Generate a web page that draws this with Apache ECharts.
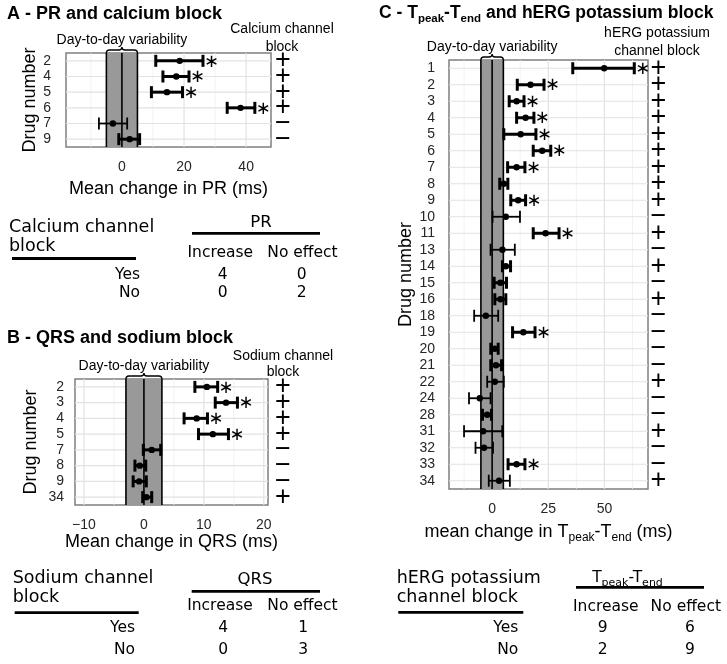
<!DOCTYPE html>
<html><head><meta charset="utf-8">
<script src="https://cdn.jsdelivr.net/npm/echarts@6/dist/echarts.min.js"></script>
<style>html,body{margin:0;padding:0;background:#fff}#c{width:727px;height:664px}</style>
</head><body><div id="c"></div>
<script>
// ---------- Panel A : PR and calcium block ----------
const drugsA = ['2','4','5','6','7','9'];
const meanA  = [18.6, 17.5, 14.5, 38.2, -2.9, 2.5];
const lowA   = [10.9, 13.2,  9.5, 33.9, -7.4, -1.0];
const highA  = [26.1, 21.6, 19.5, 42.8,  1.7,  5.7];
const sigA   = [1,1,1,1,0,0];
const blockA = ['+','+','+','+','−','−'];
const ticksA = [0, 20, 40];
const minorA = [-10, 10, 30];
const varA = 5;

// ---------- Panel B : QRS and sodium block ----------
const drugsB = ['2','3','4','5','7','8','9','34'];
const meanB  = [10.5, 13.7,  8.8, 11.5,  1.3, -0.7, -0.8,  0.4];
const lowB   = [ 8.5, 11.9,  6.7,  9.1, -0.1, -1.5, -1.8, -0.2];
const highB  = [12.3, 15.6, 10.6, 14.1,  2.8,  0.3,  0.4,  1.3];
const sigB   = [1,1,1,1,0,0,0,0];
const blockB = ['+','+','+','+','−','−','−','+'];
const ticksB = [-10, 0, 10, 20];
const minorB = [-5, 5, 15];
const varB = 3;

// ---------- Panel C : Tpeak-Tend and hERG block ----------
const drugsC = ['1','2','3','4','5','6','7','8','9','10','11','13','14','15','16','18','19','20','21','22','24','28','31','32','33','34'];
const meanC  = [49.9,17.1,10.9,14.9,12.7,22.3,10.9,5.2,11.6,6.1,23.8,4.6,6.1,3.7,3.7,-2.8,13.9,1.2,1.7,1.2,-5.5,-2.2,-4.0,-3.6,10.9,3.1];
const lowC   = [35.9,11.2,7.6,10.9,5.2,18.3,6.9,3.4,8.3,0.2,18.3,-0.7,4.6,0.9,1.2,-8.0,9.1,-0.6,-0.6,-2.2,-10.3,-4.3,-12.5,-7.4,7.1,-1.5];
const highC  = [63.3,23.1,14.2,18.6,19.5,26.1,14.6,7.0,14.9,12.4,29.8,10.1,8.2,6.4,6.1,2.7,19.1,2.7,4.2,5.2,-0.7,-0.3,4.5,0.4,14.6,7.9];
const sigC   = [1,1,1,1,1,1,1,0,1,0,1,0,0,0,0,0,1,0,0,0,0,0,0,0,1,0];
const blockC = ['+','+','+','+','+','+','+','+','+','−','+','−','+','−','+','−','−','−','−','+','−','−','+','−','−','+'];
const ticksC = [0, 25, 50];
const minorC = [-12.5, 12.5, 37.5, 62.5];
const varC = 5;

// ---------- Contingency tables ----------
const tableCols = ['Increase', 'No effect'];
const tableRows = ['Yes', 'No'];
const countsA = [[4, 0], [0, 2]];
const countsB = [[4, 1], [0, 3]];
const countsC = [[9, 6], [2, 9]];

const FONT = 'Liberation Sans';
const TFONT = 'DejaVu Sans';

function vgridSeries(gi, majors, minors) {
  const data = majors.map(v => [v, 0, 1]).concat(minors.map(v => [v, 0, 0]));
  return {type:'custom', xAxisIndex:gi, yAxisIndex:gi, z:1, silent:true, data, encode:{x:0, y:1},
    renderItem(params, api) {
      const cs = params.coordSys;
      const x = api.coord([api.value(0), 0])[0];
      const major = api.value(2) === 1;
      return {type:'line', shape:{x1:x, y1:cs.y, x2:x, y2:cs.y + cs.height},
        style:{stroke: major ? '#e2e2e2' : '#efefef', lineWidth: major ? 1.2 : 0.8}};
    }};
}
function hgridSeries(gi, drugs) {
  return {type:'custom', xAxisIndex:gi, yAxisIndex:gi, z:1, silent:true,
    data: drugs.map((d, i) => [0, i]), encode:{x:0, y:1},
    renderItem(params, api) {
      const cs = params.coordSys;
      const y = api.coord([0, api.value(1)])[1];
      return {type:'line', shape:{x1:cs.x, y1:y, x2:cs.x + cs.width, y2:y},
        style:{stroke:'#e2e2e2', lineWidth:1.2}};
    }};
}
function bandSeries(gi, v) {
  return {type:'custom', xAxisIndex:gi, yAxisIndex:gi, z:2, silent:true,
    data:[[-v, 0, v]], encode:{x:[0, 2], y:1},
    renderItem(params, api) {
      const cs = params.coordSys;
      const x1 = api.coord([api.value(0), 0])[0];
      const x2 = api.coord([api.value(2), 0])[0];
      const x0 = api.coord([0, 0])[0];
      const top = cs.y, bot = cs.y + cs.height;
      const xm = (x1 + x2) / 2;
      const brace = `M${x1} ${top} Q${x1} ${top-3} ${x1+3} ${top-3} L${xm-3} ${top-3} Q${xm} ${top-3} ${xm} ${top-6} Q${xm} ${top-3} ${xm+3} ${top-3} L${x2-3} ${top-3} Q${x2} ${top-3} ${x2} ${top}`;
      const ln = (x) => ({type:'line', shape:{x1:x, y1:top, x2:x, y2:bot}, style:{stroke:'#000', lineWidth:1.6}});
      return {type:'group', children:[
        {type:'rect', shape:{x:x1, y:top, width:x2 - x1, height:cs.height}, style:{fill:'#999999'}},
        ln(x1), ln(x2), ln(x0),
        {type:'path', shape:{pathData:brace}, style:{stroke:'#000', fill:'none', lineWidth:1.3}},
        {type:'text', style:{text:'Day-to-day variability', x:xm, y:top - 13, align:'center', verticalAlign:'middle',
          font:`14px ${FONT}`, fill:'#000'}}
      ]};
    }};
}
function barSeries(gi, low, high, mean, sig, block, signOffset) {
  const data = low.map((l, i) => [l, i, high[i], mean[i], sig[i]]);
  return {type:'custom', xAxisIndex:gi, yAxisIndex:gi, z:3, silent:true, data, encode:{x:[0, 2, 3], y:1},
    renderItem(params, api) {
      const cs = params.coordSys;
      const i = api.value(1);
      const pl = api.coord([api.value(0), i]);
      const ph = api.coord([api.value(2), i]);
      const pm = api.coord([api.value(3), i]);
      const y = pl[1];
      const s = api.value(4) === 1;
      const thick = s || (api.value(2) - api.value(0)) < 7;
      const lw = thick ? 3 : 1.8;
      const st = {stroke:'#000', lineWidth:lw};
      const ch = [
        {type:'line', shape:{x1:pl[0], y1:y, x2:ph[0], y2:y}, style:st},
        {type:'line', shape:{x1:pl[0], y1:y - 6, x2:pl[0], y2:y + 6}, style:st},
        {type:'line', shape:{x1:ph[0], y1:y - 6, x2:ph[0], y2:y + 6}, style:st},
        {type:'circle', shape:{cx:pm[0], cy:y, r:3.2}, style:{fill:'#000'}},
        {type:'text', style:{text:block[params.dataIndex], x:cs.x + cs.width + signOffset, y:y,
          align:'center', verticalAlign:'middle', font:`27px ${FONT}`, fill:'#000'}}
      ];
      if (s) {
        ch.push({type:'text', style:{text:'∗', x:ph[0] + 8.5, y:y + 1, align:'center', verticalAlign:'middle',
          font:`18px ${TFONT}`, fill:'#000'}});
      }
      return {type:'group', children:ch};
    }};
}

const tickLabel = {fontSize:14, fontFamily:FONT, color:'#262626',
  formatter: v => String(v).replace('-', '−')};
function xAxisDef(gi, min, max, ticks, name, gap, nameStyle) {
  return {gridIndex:gi, type:'value', min, max,
    axisLine:{show:false}, splitLine:{show:false},
    axisTick:{customValues:ticks, length:5, lineStyle:{color:'#333', width:1.5}},
    axisLabel:Object.assign({customValues:ticks, margin:13}, tickLabel),
    name, nameLocation:'middle', nameGap:gap,
    nameTextStyle:Object.assign({fontSize:18, fontFamily:FONT, color:'#000'}, nameStyle || {})};
}
function yAxisDef(gi, drugs, margin, gap) {
  return {gridIndex:gi, type:'category', data:drugs, inverse:true,
    axisLine:{show:false}, splitLine:{show:false},
    axisTick:{alignWithLabel:true, interval:0, length:5, lineStyle:{color:'#333', width:1.5}},
    axisLabel:{interval:0, fontSize:14, fontFamily:FONT, color:'#262626', margin},
    name:'Drug number', nameLocation:'middle', nameGap:gap, nameRotate:90,
    nameTextStyle:{fontSize:18, fontFamily:FONT, color:'#000'}};
}

const gridStyle = {show:true, borderColor:'#7f7f7f', borderWidth:1.5, backgroundColor:'#fff'};

function txt(text, x, y, size, align, font, weight) {
  return {type:'text', silent:true, style:{text, x, y, font:`${weight || ''} ${size}px ${font || FONT}`,
    fill:'#000', align:align || 'left', verticalAlign:'middle', textAlign:align || 'left', textVerticalAlign:'middle'}};
}
function hline(x1, x2, y) {
  return {type:'line', silent:true, shape:{x1, y1:y, x2, y2:y}, style:{stroke:'#000', lineWidth:2.8}};
}
function table(rowTitle, head, counts, L) {
  const els = [
    txt(rowTitle[0], L.lx, L.r1, 17.5, 'left', TFONT),
    txt(rowTitle[1], L.lx, L.r2, 17.5, 'left', TFONT),
    hline(L.u1[0], L.u1[1], L.u1[2]),
    hline(L.u2[0], L.u2[1], L.u2[2]),
    txt(tableCols[0], L.c1, L.hy, 15.5, 'center', TFONT),
    txt(tableCols[1], L.c2, L.hy, 15.5, 'center', TFONT)
  ];
  els.push(head);
  tableRows.forEach((r, k) => {
    els.push(txt(r, L.rx, L.ry[k], 15.5, 'right', TFONT));
    els.push(txt(String(counts[k][0]), L.v1, L.ry[k], 15.5, 'center', TFONT));
    els.push(txt(String(counts[k][1]), L.v2, L.ry[k], 15.5, 'center', TFONT));
  });
  return els;
}

const subRich = {
  n:{fontSize:15.5, fontFamily:TFONT, color:'#000', verticalAlign:'middle', lineHeight:22},
  s:{fontSize:11, fontFamily:TFONT, color:'#000', verticalAlign:'bottom', lineHeight:22}
};

const graphic = [
  txt('A - PR and calcium block', 7, 14, 18, 'left', FONT, 'bold'),
  txt('B - QRS and sodium block', 7, 338, 18, 'left', FONT, 'bold'),
  {type:'text', silent:true, style:{text:'{b|C - T}{s|peak}{b|-T}{s|end}{b| and hERG potassium block}', x:379, y:13,
    verticalAlign:'middle', textVerticalAlign:'middle',
    rich:{b:{fontSize:17.5, fontWeight:'bold', fontFamily:FONT, color:'#000', verticalAlign:'middle', lineHeight:24},
          s:{fontSize:11.5, fontWeight:'bold', fontFamily:FONT, color:'#000', verticalAlign:'bottom', lineHeight:24}}}},
  txt('Calcium channel', 282, 29, 14, 'center'),
  txt('block', 282, 47, 14, 'center'),
  txt('Sodium channel', 283, 356, 14, 'center'),
  txt('block', 283, 372.5, 14, 'center'),
  txt('hERG potassium', 657, 33, 14, 'center'),
  txt('channel block', 657, 51.5, 14, 'center')
]
.concat(table(['Calcium channel', 'block'], txt('PR', 261, 223, 16.5, 'center', TFONT), countsA,
  {lx:9, r1:227, r2:246, u1:[12, 136, 258.5], u2:[192, 320, 233.3], c1:220.3, c2:302.5, hy:252.7,
   rx:140, ry:[275, 293.3], v1:222.7, v2:301.7}))
.concat(table(['Sodium channel', 'block'], txt('QRS', 255, 580, 16.5, 'center', TFONT), countsB,
  {lx:12.7, r1:578.3, r2:597.3, u1:[14.7, 138.7, 612.7], u2:[191.7, 320, 591.3], c1:220, c2:302.5, hy:606,
   rx:135, ry:[628.3, 650], v1:223.3, v2:303.3}))
.concat(table(['hERG potassium', 'channel block'],
  {type:'text', silent:true, style:{text:'{n|T}{s|peak}{n|-T}{s|end}', x:627.5, y:577.5, align:'center', textAlign:'center',
    verticalAlign:'middle', textVerticalAlign:'middle', rich:subRich}}, countsC,
  {lx:396.7, r1:578.3, r2:597.3, u1:[398.3, 523.3, 612.3], u2:[576, 704, 587.3], c1:605.8, c2:685.8, hy:606.7,
   rx:518.3, ry:[628.3, 650], v1:602.7, v2:690}));

const option = {
  animation:false,
  backgroundColor:'#fff',
  grid:[
    Object.assign({left:66, top:53, width:205, height:94}, gridStyle),
    Object.assign({left:75, top:379, width:193, height:126}, gridStyle),
    Object.assign({left:449, top:60, width:199, height:429}, gridStyle)
  ],
  xAxis:[
    xAxisDef(0, -18, 48, ticksA, 'Mean change in PR (ms)', 33),
    xAxisDef(1, -11.5, 20.7, ticksB, 'Mean change in QRS (ms)', 28),
    xAxisDef(2, -19.2, 69.4, ticksC, '{n|mean change in T}{s|peak}{n|-T}{s|end}{n| (ms)}', 31,
      {rich:{n:{fontSize:18, fontFamily:FONT, color:'#000', verticalAlign:'middle', lineHeight:24},
             s:{fontSize:12, fontFamily:FONT, color:'#000', verticalAlign:'bottom', lineHeight:24}}})
  ],
  yAxis:[
    yAxisDef(0, drugsA, 15, 27),
    yAxisDef(1, drugsB, 11, 35),
    yAxisDef(2, drugsC, 14, 34)
  ],
  series:[
    vgridSeries(0, ticksA, minorA), hgridSeries(0, drugsA), bandSeries(0, varA),
    barSeries(0, lowA, highA, meanA, sigA, blockA, 12),
    vgridSeries(1, ticksB, minorB), hgridSeries(1, drugsB), bandSeries(1, varB),
    barSeries(1, lowB, highB, meanB, sigB, blockB, 15),
    vgridSeries(2, ticksC, minorC), hgridSeries(2, drugsC), bandSeries(2, varC),
    barSeries(2, lowC, highC, meanC, sigC, blockC, 10.5)
  ],
  graphic
};
const chart = echarts.init(document.getElementById('c'), null, {renderer:'canvas'});
chart.setOption(option);
</script>
</body></html>
